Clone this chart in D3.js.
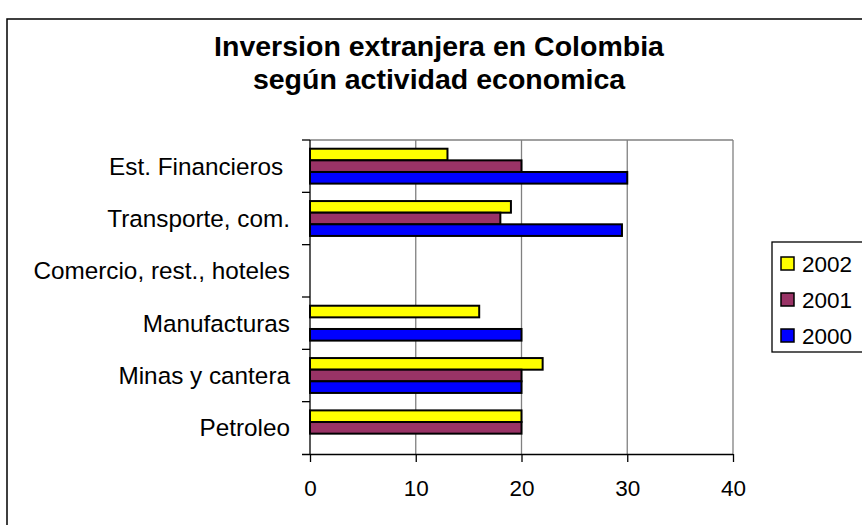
<!DOCTYPE html>
<html><head><meta charset="utf-8">
<script src="https://cdn.jsdelivr.net/npm/d3@7"></script>
<style>body{margin:0;background:#fff}svg{display:block}text{font-family:"Liberation Sans",Arial,sans-serif;white-space:pre}</style>
</head><body><svg id="c" width="862" height="525"></svg>
<script>
const titleLines = ["Inversion extranjera en Colombia", "según actividad economica"];
const categories = ["Petroleo", "Minas y cantera", "Manufacturas", "Comercio, rest., hoteles", "Transporte, com.", "Est. Financieros "];
const seriesNames = ["2002", "2001", "2000"];
const v2002 = [20, 22, 16, null, 19, 13];
const v2001 = [20, 20, 0, null, 18, 20];
const v2000 = [null, 20, 20, null, 29.5, 30];
const colors = ["#FFFF00", "#993366", "#0000FF"];
const xTicks = [0, 10, 20, 30, 40];

const seriesVals = [v2002, v2001, v2000];
const svg = d3.select("#c");
const m = {left: 310, right: 733, top: 140, bottom: 454};

// outer frame
svg.append("rect").attr("x", 7).attr("y", 19).attr("width", 900).attr("height", 560)
  .attr("fill", "none").attr("stroke", "#000").attr("stroke-width", 1.5);

// title
svg.append("g").selectAll("text").data(titleLines).join("text")
  .attr("x", 439).attr("y", (d, i) => 56 + i * 33)
  .attr("text-anchor", "middle").attr("font-weight", "bold").attr("font-size", 28.5)
  .attr("fill", "#000").text(d => d);

const x = d3.scaleLinear().domain([0, 40]).range([m.left, m.right]);
const y = d3.scaleBand().domain(categories.slice().reverse()).range([m.top, m.bottom]);
const gapPad = y.bandwidth() * 0.75 / 4.5;
const inner = d3.scaleBand().domain(seriesNames).range([gapPad, y.bandwidth() - gapPad]);

// grid
svg.append("g").selectAll("line").data(xTicks.slice(1)).join("line")
  .attr("x1", d => x(d)).attr("x2", d => x(d)).attr("y1", m.top).attr("y2", m.bottom)
  .attr("stroke", "#808080").attr("stroke-width", 1.3);
svg.append("line").attr("x1", m.left).attr("x2", m.right).attr("y1", m.top).attr("y2", m.top)
  .attr("stroke", "#808080").attr("stroke-width", 1.3);

// bars
const bars = [];
categories.forEach((c, ci) => seriesVals.forEach((arr, si) => {
  if (arr[ci] !== null) bars.push({c, s: seriesNames[si], v: arr[ci], color: colors[si]});
}));
svg.append("g").selectAll("rect").data(bars).join("rect")
  .attr("x", x(0)).attr("y", d => y(d.c) + inner(d.s))
  .attr("width", d => x(d.v) - x(0)).attr("height", inner.bandwidth())
  .attr("fill", d => d.color).attr("stroke", "#000").attr("stroke-width", 2);

// axes
const xAxis = d3.axisBottom(x).tickValues(xTicks).tickSize(8).tickPadding(18);
const gx = svg.append("g").attr("transform", `translate(0,${m.bottom})`).call(xAxis);
gx.select(".domain").attr("d", `M${m.left - 8},0.5H${m.right}`).attr("stroke", "#000").attr("stroke-width", 1.3);
gx.selectAll(".tick line").attr("stroke", "#000").attr("stroke-width", 1.3);
gx.selectAll("text").attr("font-size", 22.5).attr("fill", "#000").attr("font-family", "Liberation Sans, Arial, sans-serif");

const gy = svg.append("g").attr("transform", `translate(${m.left},0)`);
gy.append("line").attr("x1", 0).attr("x2", 0).attr("y1", m.top).attr("y2", m.bottom).attr("stroke", "#000").attr("stroke-width", 1.3);
const bounds = categories.map(c => y(c));
gy.selectAll("line.tk").data(bounds).join("line").attr("class", "tk")
  .attr("x1", -8).attr("x2", 0).attr("y1", d => d).attr("y2", d => d)
  .attr("stroke", "#000").attr("stroke-width", 1.3);
gy.selectAll("text").data(categories).join("text")
  .attr("x", -20).attr("y", d => y(d) + y.bandwidth() / 2).attr("dy", "0.35em")
  .attr("text-anchor", "end").attr("font-size", 24.3).attr("fill", "#000").text(d => d);

// legend
const lg = svg.append("g");
lg.append("rect").attr("x", 772).attr("y", 242).attr("width", 100).attr("height", 110)
  .attr("fill", "#fff").attr("stroke", "#000").attr("stroke-width", 1.3);
const li = lg.selectAll("g").data(seriesNames).join("g")
  .attr("transform", (d, i) => `translate(781,${264 + i * 36})`);
li.append("rect").attr("x", 0).attr("y", -7).attr("width", 13).attr("height", 13)
  .attr("fill", (d, i) => colors[i]).attr("stroke", "#000").attr("stroke-width", 1.5);
li.append("text").attr("x", 21).attr("y", 0).attr("dy", "0.35em").attr("font-size", 22.5).attr("fill", "#000").text(d => d);
</script></body></html>
